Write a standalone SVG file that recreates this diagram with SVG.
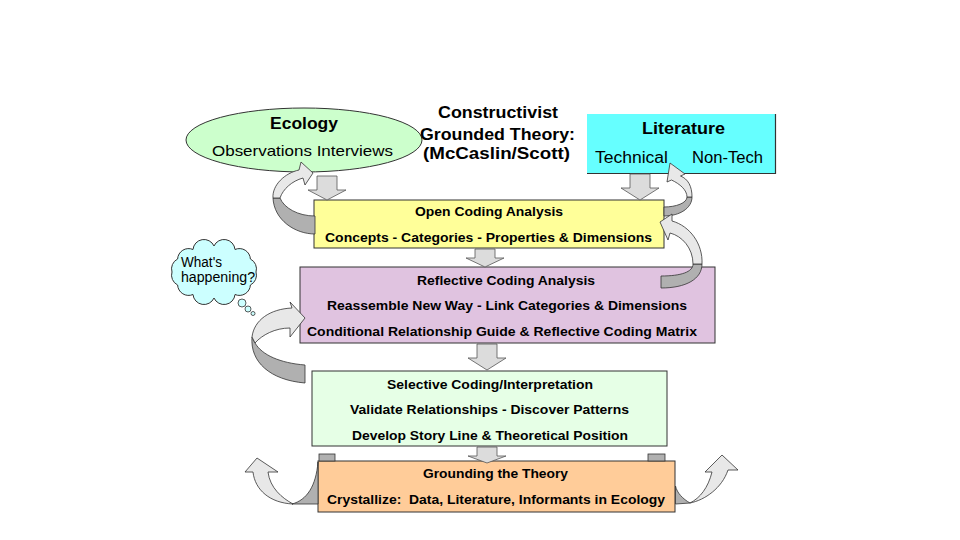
<svg xmlns="http://www.w3.org/2000/svg" width="960" height="540" viewBox="0 0 960 540">
<style>
.t{font-family:"Liberation Sans",Arial,sans-serif;fill:#000}
.b{font-weight:bold}
.box{stroke:#333;stroke-width:1}
.blk{fill:#dcdcdc;stroke:#555;stroke-width:0.8}
.lt{fill:#e8e8e8;stroke:#333;stroke-width:0.8}
.dk{fill:#b0b0b0;stroke:#333;stroke-width:0.8}
</style>
<rect width="960" height="540" fill="#fff"/>

<g id="ecology">
<ellipse cx="304" cy="140" rx="118" ry="32" fill="#ccffcc" stroke="#333" stroke-width="1"/>
<text class="t b" x="304" y="129" font-size="17" text-anchor="middle" textLength="68" lengthAdjust="spacingAndGlyphs">Ecology</text>
<text class="t" x="302.5" y="156" font-size="15" text-anchor="middle" textLength="181" lengthAdjust="spacingAndGlyphs">Observations Interviews</text>
</g>

<g id="method">
<text class="t b" x="498" y="118" font-size="17" text-anchor="middle" textLength="120" lengthAdjust="spacingAndGlyphs">Constructivist</text>
<text class="t b" x="497.5" y="140" font-size="17" text-anchor="middle" textLength="155" lengthAdjust="spacingAndGlyphs">Grounded Theory:</text>
<text class="t b" x="496.5" y="159" font-size="17" text-anchor="middle" textLength="147" lengthAdjust="spacingAndGlyphs">(McCaslin/Scott)</text>
</g>

<g id="literature">
<rect x="587" y="114" width="188" height="59" fill="#66ffff"/>
<path d="M587,173.5 H775.5 V114" fill="none" stroke="#333" stroke-width="1.2"/>
<text class="t b" x="683.5" y="134" font-size="17" text-anchor="middle" textLength="83" lengthAdjust="spacingAndGlyphs">Literature</text>
<text class="t" x="631.5" y="163" font-size="16" text-anchor="middle" textLength="73" lengthAdjust="spacingAndGlyphs">Technical</text>
<text class="t" x="727.5" y="163" font-size="16" text-anchor="middle" textLength="71" lengthAdjust="spacingAndGlyphs">Non-Tech</text>
</g>

<g id="open-coding">
<rect class="box" x="314" y="200" width="350" height="48" fill="#ffff99"/>
<text class="t b" x="489" y="216" font-size="13" text-anchor="middle" textLength="148" lengthAdjust="spacingAndGlyphs">Open Coding Analysis</text>
<text class="t b" x="488.5" y="242" font-size="13" text-anchor="middle" textLength="327" lengthAdjust="spacingAndGlyphs">Concepts - Categories - Properties &amp; Dimensions</text>
</g>

<g id="whats-happening">
<path d="M256,272 A11,11 0 0 1 250.4,285 A11,11 0 0 1 235,294.5 A11,11 0 0 1 214,298 A11,11 0 0 1 193,294.5 A11,11 0 0 1 177.6,285 A11,11 0 0 1 172,272 A11,11 0 0 1 177.6,259 A11,11 0 0 1 193,249.5 A11,11 0 0 1 214,246 A11,11 0 0 1 235,249.5 A11,11 0 0 1 250.4,259 A11,11 0 0 1 256,272 Z" fill="#ccffff" stroke="#333" stroke-width="1"/>
<circle cx="242" cy="303" r="4" fill="#ccffff" stroke="#333" stroke-width="0.8"/>
<circle cx="248" cy="309" r="3" fill="#ccffff" stroke="#333" stroke-width="0.8"/>
<circle cx="253" cy="313.5" r="2" fill="#ccffff" stroke="#333" stroke-width="0.8"/>
<text class="t" x="181" y="266.5" font-size="14" textLength="41" lengthAdjust="spacingAndGlyphs">What's</text>
<text class="t" x="181" y="281.5" font-size="14" textLength="74" lengthAdjust="spacingAndGlyphs">happening?</text>
</g>

<g id="reflective-coding">
<rect class="box" x="300" y="267" width="415" height="76" fill="#e0c3e0"/>
<text class="t b" x="506" y="285" font-size="13" text-anchor="middle" textLength="178" lengthAdjust="spacingAndGlyphs">Reflective Coding Analysis</text>
<text class="t b" x="507" y="310" font-size="13" text-anchor="middle" textLength="360" lengthAdjust="spacingAndGlyphs">Reassemble New Way - Link Categories &amp; Dimensions</text>
<text class="t b" x="502" y="336" font-size="13" text-anchor="middle" textLength="390" lengthAdjust="spacingAndGlyphs">Conditional Relationship Guide &amp; Reflective Coding Matrix</text>
</g>

<g id="selective-coding">
<rect class="box" x="312" y="371" width="355" height="75" fill="#e6ffe6"/>
<text class="t b" x="490" y="389" font-size="13" text-anchor="middle" textLength="206" lengthAdjust="spacingAndGlyphs">Selective Coding/Interpretation</text>
<text class="t b" x="489.5" y="414" font-size="13" text-anchor="middle" textLength="279" lengthAdjust="spacingAndGlyphs">Validate Relationships - Discover Patterns</text>
<text class="t b" x="490" y="440" font-size="13" text-anchor="middle" textLength="276" lengthAdjust="spacingAndGlyphs">Develop Story Line &amp; Theoretical Position</text>
</g>

<g id="grounding">
<rect class="box" x="318" y="461" width="357" height="51" fill="#ffcc99"/>
<text class="t b" x="495.5" y="478" font-size="13" text-anchor="middle" textLength="145" lengthAdjust="spacingAndGlyphs">Grounding the Theory</text>
<text class="t b" x="496" y="504" font-size="13" text-anchor="middle" textLength="338" lengthAdjust="spacingAndGlyphs" xml:space="preserve">Crystallize:  Data, Literature, Informants in Ecology</text>
</g>

<g id="connectors">
<path class="blk" d="M317,176 L337,176 L337,190 L346,190 L327,200 L308,190 L317,190 Z"/>
<path class="blk" d="M630,174 L650,174 L650,188 L659,188 L640,200 L621,188 L630,188 Z"/>
<path class="blk" d="M475,249 L495,249 L495,258 L504,258 L485,267 L466,258 L475,258 Z"/>
<path class="blk" d="M477,344 L497,344 L497,358 L506,358 L487,370 L468,358 L477,358 Z"/>
<path class="blk" d="M477,447 L497,447 L497,456 L506,456 L487,463 L468,456 L477,456 Z"/>

<path class="dk" d="M315,216 C298,216 284,208 280,198 L273,198 C274,220 295,234 315,234 Z"/>
<path class="lt" d="M273,198 C272,185 285,173 299,170 L301,162 L313,173 L305,185 L303,178 C292,181 283,189 280,198 Z"/>

<path class="dk" d="M692,197 C692,208 680,216 664,216 L664,207 C676,207 687,203 687,197 Z"/>
<path class="lt" d="M692,197 C692,186 688,179 680.5,176 L685,174 L670,163 L667,182 L671.5,180 C680,184 687,190 687,197 Z"/>

<path class="dk" d="M702,264 C702,279 686,288 661,288 L661,276 C681,276 693,272 693,264 Z"/>
<path class="lt" d="M702,264 C703,244 690,226 672,221 L672,214 L660,222 L668,240 L670,233 C682,236 693,248 693,264 Z"/>

<path class="dk" d="M252,337 C250,362 270,380 305,383 L305,365 C280,363 262,355 255,343 Z"/>
<path class="lt" d="M252,337 C254,320 270,309 292,308 L290,302 L305,318 L290,337 L290,328 C275,328 262,335 255,343 Z"/>

<path class="dk" d="M292,504 C307,500 316,486 318,462 L318,504 Z"/>
<rect class="dk" x="319" y="454" width="16" height="7"/>
<path class="lt" d="M253,472 C255,490 270,503 293,504 C282,498 270,488 268,472 L278,472 L257,458 L245,472 Z"/>

<path class="dk" d="M690,503 C683,499 677,493 675.5,486 L675.5,504 Z"/>
<rect class="dk" x="648" y="454" width="17" height="7"/>
<path class="lt" d="M712,472 C708,488 700,498 690,503 C705,500 722,488 728,470 L738,470 L722,455 L705,472 Z"/>
</g>
</svg>
